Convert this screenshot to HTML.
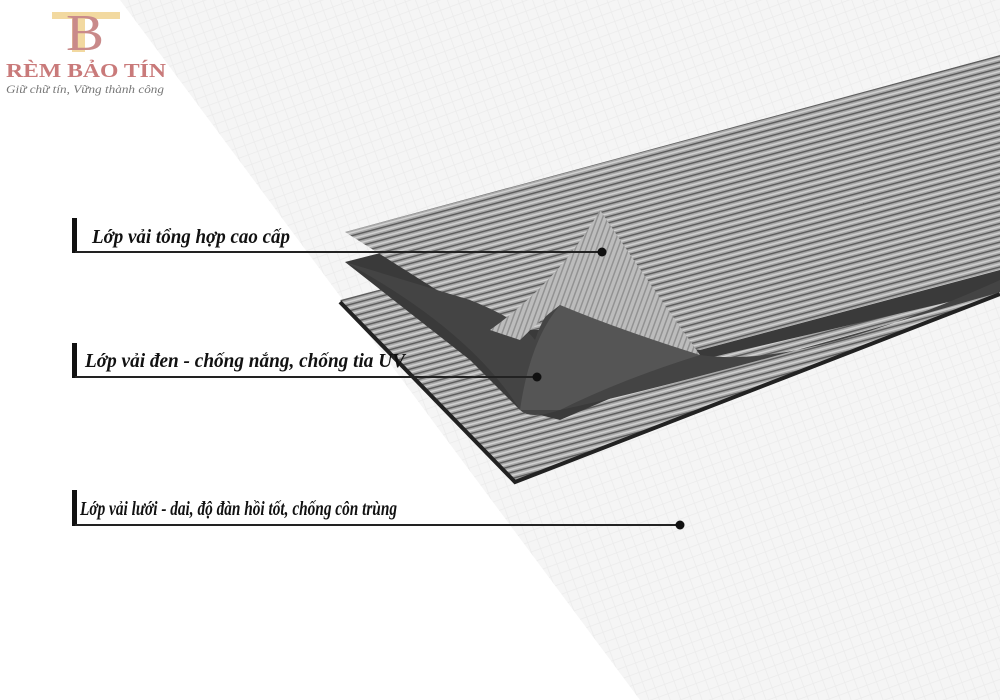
<!DOCTYPE html>
<html><head><meta charset="utf-8"><style>
html,body{margin:0;padding:0;background:#fff;width:1000px;height:700px;overflow:hidden}
</style></head><body>
<svg width="1000" height="700" viewBox="0 0 1000 700" xmlns="http://www.w3.org/2000/svg">
<defs>
<pattern id="mesh" width="10" height="10" patternUnits="userSpaceOnUse" patternTransform="rotate(-20)">
<rect width="10" height="10" fill="#f5f5f5"/>
<path d="M0 0H10M0 0V10" stroke="#ebebeb" stroke-width="1.5"/>
</pattern>
<pattern id="str" width="40" height="6" patternUnits="userSpaceOnUse" patternTransform="rotate(-15)">
<rect width="40" height="6" fill="#a8a8a8"/>
<rect y="0" width="40" height="1.4" fill="#5a5a5a"/>
<rect y="3" width="40" height="1.5" fill="#d0d0d0"/>
</pattern>
<pattern id="str2" width="5" height="40" patternUnits="userSpaceOnUse" patternTransform="rotate(20)">
<rect width="5" height="40" fill="#bcbcbc"/>
<rect width="1.5" height="40" fill="#929292"/>
</pattern>
</defs>
<rect width="1000" height="700" fill="#fff"/>
<polygon points="120,0 1000,0 1000,700 640,700" fill="url(#mesh)"/>
<polygon points="340,300 1000,128 1000,292 515,480" fill="url(#str)"/>
<polyline points="340,302 515,482 1000,294" fill="none" stroke="#222" stroke-width="4"/>
<polygon points="345,262 1000,95 1000,290 700,360 560,420 520,410 470,360" fill="#3a3a3a"/>
<polygon points="345,232 1000,55 1000,270 700,350 560,330 500,330" fill="url(#str)"/>
<path d="M345,262 L470,300 Q520,320 535,340 Q545,310 560,300 Q620,330 700,355 Q800,370 1000,280 L1000,292 Q700,380 560,410 Q530,420 520,410 Q470,330 345,262Z" fill="#444"/>
<path d="M520,410 Q530,340 560,305 Q620,330 700,355 Q620,380 560,410Z" fill="#555"/>
<path d="M490,330 Q560,280 600,210 Q640,270 700,355 Q620,330 560,305 Q540,320 520,340Z" fill="url(#str2)"/>
<g fill="#111">
<rect x="72" y="218" width="5" height="35"/>
<rect x="72" y="343" width="5" height="35"/>
<rect x="72" y="490" width="5" height="36"/>
</g>
<g stroke="#222" stroke-width="2">
<line x1="75" y1="252" x2="602" y2="252"/>
<line x1="75" y1="377" x2="537" y2="377"/>
<line x1="75" y1="525" x2="680" y2="525"/>
</g>
<g fill="#111"><circle cx="602" cy="252" r="4.5"/><circle cx="537" cy="377" r="4.5"/><circle cx="680" cy="525" r="4.5"/></g>
<g font-family="Liberation Serif, serif" font-style="italic" font-weight="bold" font-size="20" fill="#111">
<text x="92" y="243" textLength="198" lengthAdjust="spacingAndGlyphs">Lớp vải tổng hợp cao cấp</text>
<text x="85" y="367" textLength="320" lengthAdjust="spacingAndGlyphs">Lớp vải đen  - chống nắng, chống tia UV</text>
<text x="80" y="515" textLength="317" lengthAdjust="spacingAndGlyphs">Lớp vải lưới - dai, độ đàn hồi tốt, chống côn trùng</text>
</g>
<rect x="52" y="12" width="68" height="7" fill="#f2d9a0"/>
<rect x="72" y="12" width="13" height="40" fill="#f2d9a0"/>
<text x="66" y="50" font-family="Liberation Serif, serif" font-size="52" fill="#c98a8a" textLength="38" lengthAdjust="spacingAndGlyphs">B</text>
<text x="6" y="77" font-family="Liberation Serif, serif" font-weight="bold" font-size="20" fill="#c97a7a" textLength="160" lengthAdjust="spacingAndGlyphs">RÈM BẢO TÍN</text>
<text x="6" y="93" font-family="Liberation Serif, serif" font-style="italic" font-size="12" fill="#777" textLength="158" lengthAdjust="spacingAndGlyphs">Giữ chữ tín, Vững thành công</text>
</svg>
</body></html>
